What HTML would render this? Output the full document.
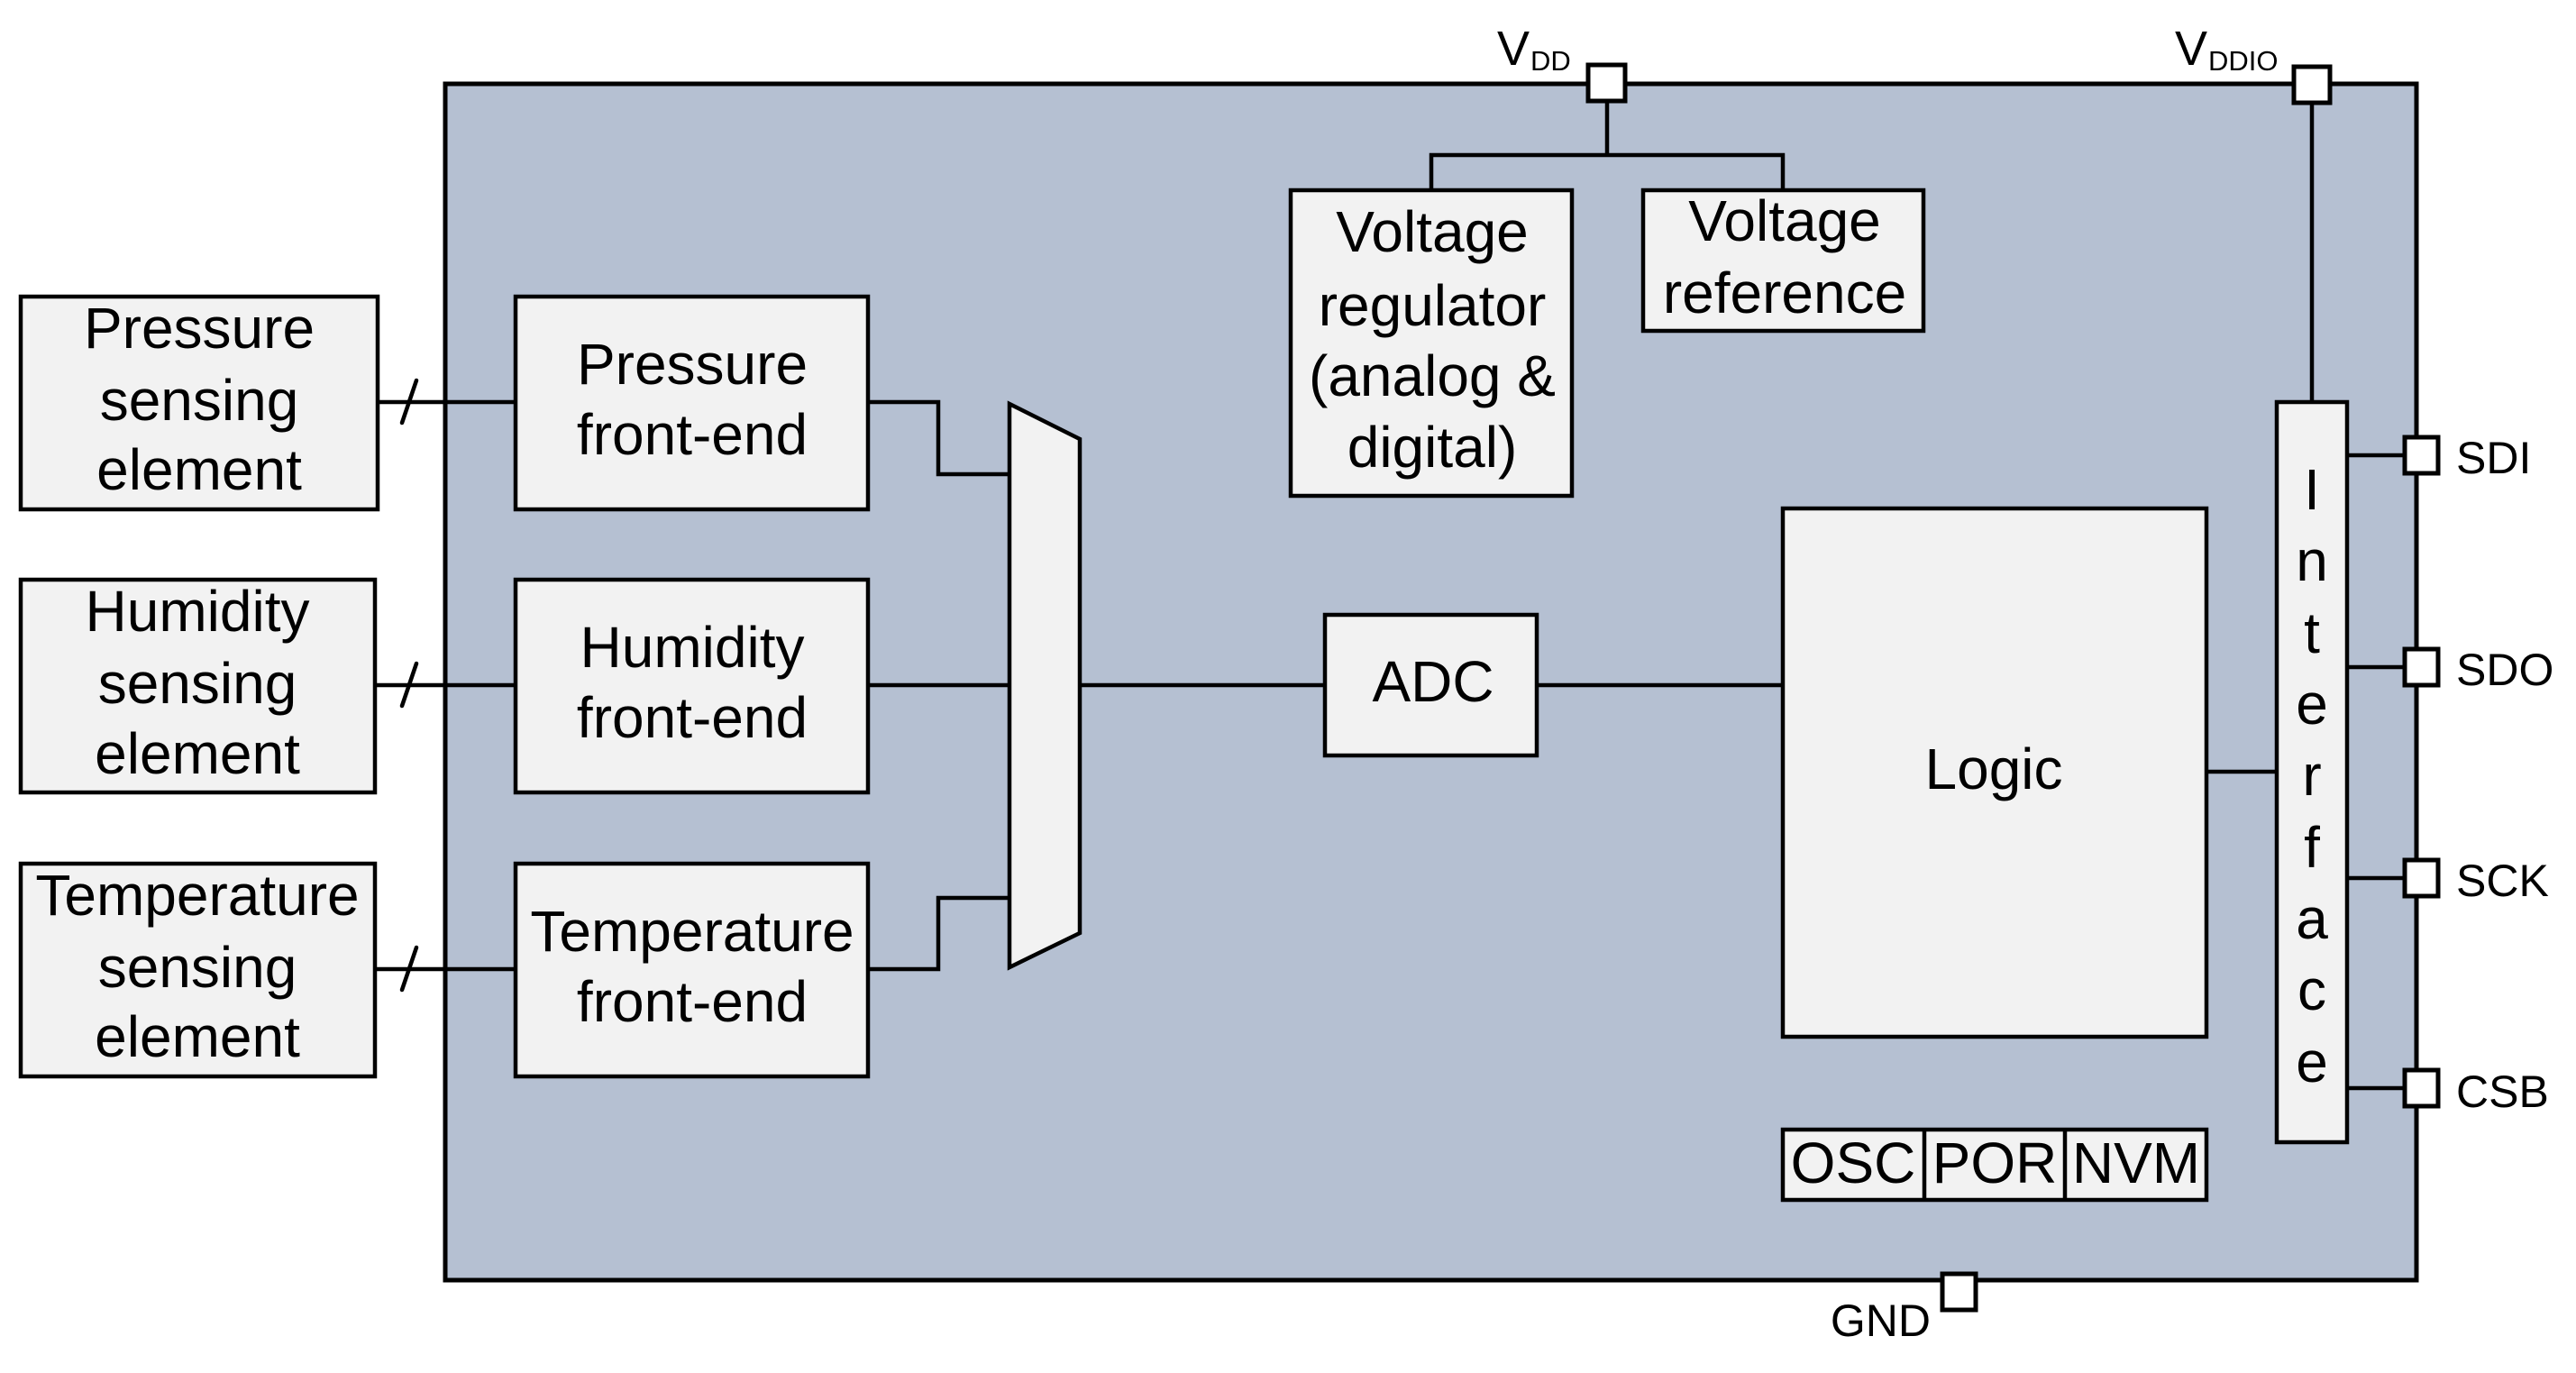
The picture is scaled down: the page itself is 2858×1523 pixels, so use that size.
<!DOCTYPE html>
<html><head><meta charset="utf-8"><style>
html,body{margin:0;padding:0;background:#fff;}
svg{display:block;}
text{font-family:"Liberation Sans",sans-serif;fill:#000;}
</style></head><body>
<svg width="2858" height="1523" viewBox="0 0 2858 1523" xmlns="http://www.w3.org/2000/svg">
<g stroke="#000" stroke-width="5" fill="none">
<rect x="494" y="93" width="2187" height="1327" fill="#b5c0d2"/>
</g>
<g stroke="#000" stroke-width="4.5" fill="#f2f2f2">
<rect x="23" y="329" width="396" height="236"/>
<rect x="23" y="643" width="393" height="236"/>
<rect x="23" y="958" width="393" height="236"/>
<rect x="572" y="329" width="391" height="236"/>
<rect x="572" y="643" width="391" height="236"/>
<rect x="572" y="958" width="391" height="236"/>
<polygon points="1120,448 1198,487 1198,1035 1120,1073"/>
<rect x="1470" y="682" width="235" height="156"/>
<rect x="1978" y="564" width="470" height="586"/>
<rect x="1432" y="211" width="312" height="339"/>
<rect x="1823" y="211" width="311" height="156"/>
<rect x="2526" y="446" width="78" height="821"/>
<rect x="1978" y="1253" width="470" height="78"/>
</g>
<g stroke="#000" stroke-width="4.5" fill="none">
<line x1="2135" y1="1253" x2="2135" y2="1331"/>
<line x1="2291" y1="1253" x2="2291" y2="1331"/>
<line x1="419" y1="446" x2="572" y2="446"/>
<line x1="416" y1="760" x2="572" y2="760"/>
<line x1="416" y1="1075" x2="572" y2="1075"/>
<line x1="462" y1="422" x2="446" y2="469" stroke-linecap="round"/>
<line x1="462" y1="736" x2="446" y2="783" stroke-linecap="round"/>
<line x1="462" y1="1051" x2="446" y2="1098" stroke-linecap="round"/>
<polyline points="963,446 1041,446 1041,526 1120,526"/>
<line x1="963" y1="760" x2="1120" y2="760"/>
<polyline points="963,1075 1041,1075 1041,996 1120,996"/>
<line x1="1198" y1="760" x2="1470" y2="760"/>
<line x1="1705" y1="760" x2="1978" y2="760"/>
<line x1="2448" y1="856" x2="2526" y2="856"/>
<line x1="1783" y1="112" x2="1783" y2="172"/>
<polyline points="1588,211 1588,172 1978,172 1978,211"/>
<line x1="2565" y1="114" x2="2565" y2="446"/>
<line x1="2604" y1="505" x2="2668" y2="505"/>
<line x1="2604" y1="740" x2="2668" y2="740"/>
<line x1="2604" y1="974" x2="2668" y2="974"/>
<line x1="2604" y1="1207" x2="2668" y2="1207"/>
</g>
<g stroke="#000" stroke-width="5" fill="#fff">
<rect x="1762" y="72" width="41" height="40"/>
<rect x="2545" y="74" width="40" height="40"/>
<rect x="2668" y="485" width="37" height="40"/>
<rect x="2668" y="720" width="37" height="40"/>
<rect x="2668" y="954" width="37" height="40"/>
<rect x="2668" y="1187" width="37" height="40"/>
<rect x="2155" y="1413" width="37" height="40"/>
</g>
<g font-size="64" text-anchor="middle">
<text x="221" y="386">Pressure</text><text x="221" y="466">sensing</text><text x="221" y="543">element</text>
<text x="219" y="700">Humidity</text><text x="219" y="780">sensing</text><text x="219" y="858">element</text>
<text x="219" y="1015">Temperature</text><text x="219" y="1095">sensing</text><text x="219" y="1172">element</text>
<text x="768" y="426">Pressure</text><text x="768" y="504">front-end</text>
<text x="768" y="740">Humidity</text><text x="768" y="818">front-end</text>
<text x="768" y="1055">Temperature</text><text x="768" y="1133">front-end</text>
<text x="1589" y="279">Voltage</text><text x="1589" y="361">regulator</text><text x="1589" y="439">(analog &amp;</text><text x="1589" y="518">digital)</text>
<text x="1980" y="267">Voltage</text><text x="1980" y="347">reference</text>
<text x="1590" y="778">ADC</text>
<text x="2212" y="875">Logic</text>
<text x="2056" y="1312">OSC</text><text x="2213" y="1312">POR</text><text x="2370" y="1312">NVM</text>
<text x="2565" y="565">I</text><text x="2565" y="644">n</text><text x="2565" y="724">t</text><text x="2565" y="803">e</text><text x="2565" y="882">r</text><text x="2565" y="962">f</text><text x="2565" y="1041">a</text><text x="2565" y="1120">c</text><text x="2565" y="1200">e</text>
</g>
<g font-size="50">
<text x="2725" y="525">SDI</text>
<text x="2725" y="760">SDO</text>
<text x="2725" y="994">SCK</text>
<text x="2725" y="1228">CSB</text>
<text x="2142" y="1482" text-anchor="end">GND</text>
<text x="1661" y="72" font-size="54">V</text><text x="1698" y="78" font-size="31">DD</text>
<text x="2413" y="72" font-size="54">V</text><text x="2450" y="78" font-size="31">DDIO</text>
</g>
</svg>
</body></html>
